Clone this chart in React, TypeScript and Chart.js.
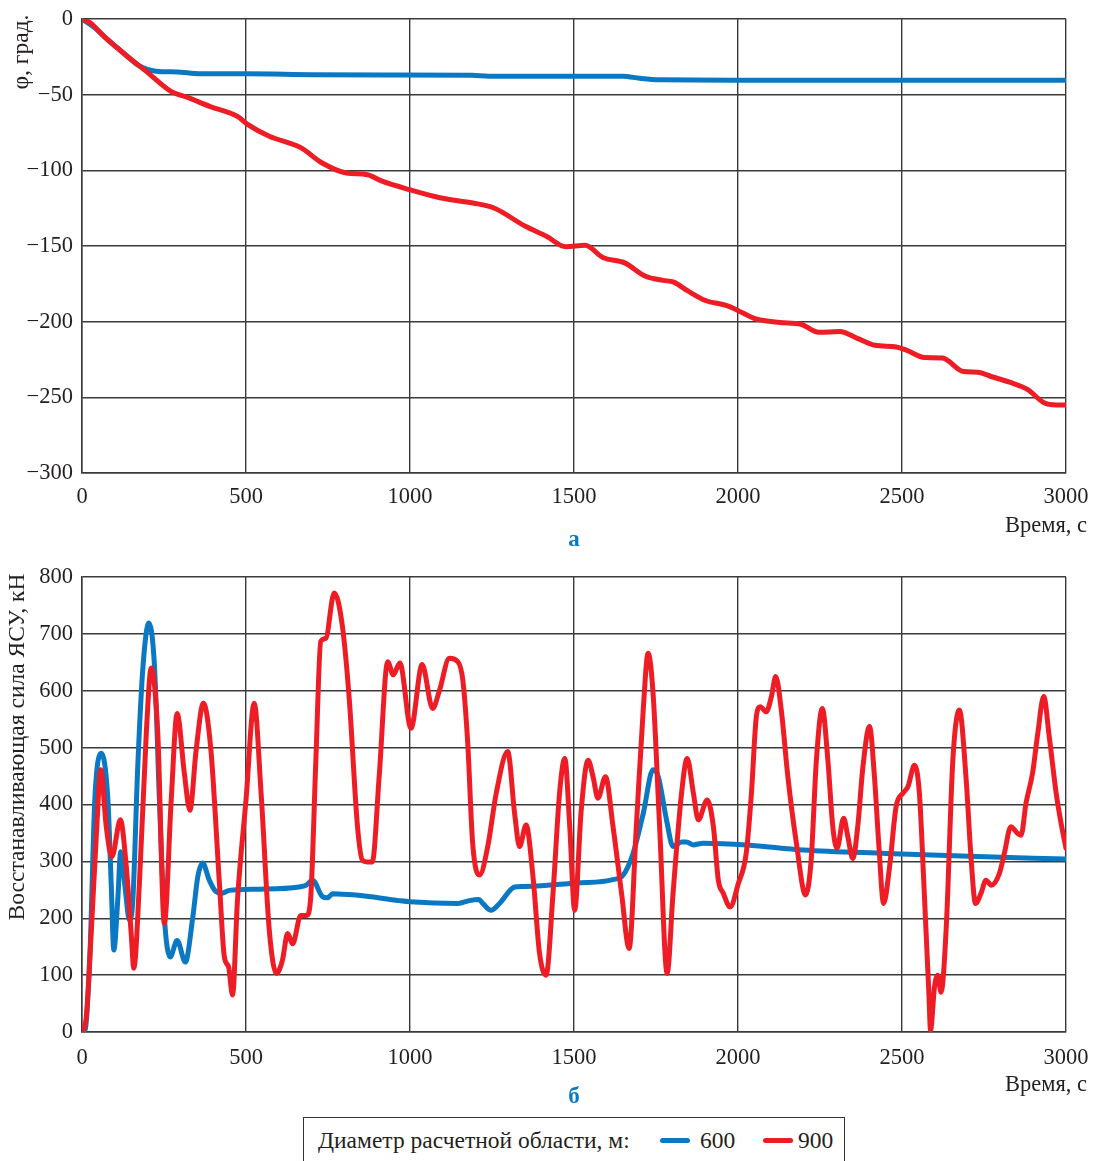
import React, { useEffect, useRef } from "react";
import { Chart, registerables } from "chart.js";

Chart.register(...registerables);

const FONT = "'Liberation Serif', 'Times New Roman', serif";
const BLUE = "#0a78c2";
const RED = "#ee1c25";
const GRID = "#3a3a3a";
const TEXT = "#231f20";
const CANVAS_W = 1110;

// Top panel (а): rotation angle φ, degrees vs time, s
const angle600: [number, number][] = [
  [0, 0], [40, -6], [80, -14], [130, -23], [175, -31], [226, -34.5], [290, -35], [358, -36.2],
  [500, -36.2], [700, -36.8], [920, -37], [1190, -37.2], [1240, -37.8], [1420, -37.8], [1650, -37.8],
  [1700, -39.2], [1760, -40.2], [2000, -40.4], [3000, -40.5],
];
const angle900: [number, number][] = [
  [0, 0], [25, -2.5], [67, -11.5], [132, -23.6], [196, -34.6], [271, -47.8], [324, -52], [389, -57.7],
  [474, -64.3], [506, -69.8], [571, -77.5], [667, -85], [731, -95], [806, -101.8], [870, -102.9],
  [913, -107], [999, -112.8], [1095, -118.3], [1192, -121.6], [1256, -124.9], [1352, -137], [1416, -143.6],
  [1475, -150.5], [1534, -149.5], [1588, -157.6], [1653, -161], [1718, -170], [1772, -172.7], [1804, -173.9],
  [1847, -179.7], [1901, -186], [1966, -189.4], [1998, -192.4], [2052, -198], [2127, -200.5], [2192, -201.7],
  [2246, -207], [2310, -206.5], [2364, -211], [2418, -215.6], [2483, -216.7], [2515, -219], [2569, -223.7],
  [2623, -224], [2688, -233], [2731, -233.4], [2774, -236.4], [2828, -240], [2881, -244.6], [2935, -253.8],
  [2970, -255], [3000, -255],
];

// Bottom panel (б): restoring force, kN vs time, s
const force600: [number, number][] = [
  [0, 0], [10, 5], [25, 150], [39, 408], [59, 490], [79, 408], [89, 261], [97, 144], [109, 232], [118, 317],
  [130, 261], [145, 197], [155, 232], [170, 467], [186, 643], [204, 719], [221, 643], [236, 408], [251, 203],
  [269, 132], [290, 161], [315, 123], [338, 203], [353, 273], [368, 297], [388, 267], [408, 247], [427, 244],
  [449, 249], [540, 251], [662, 255], [683, 258], [703, 267], [733, 238], [748, 236], [764, 243], [794, 242],
  [835, 241], [967, 231], [1000, 229], [1146, 226], [1181, 231], [1210, 233], [1222, 226], [1247, 214],
  [1273, 226], [1319, 255], [1344, 256], [1507, 262], [1619, 268], [1650, 276], [1680, 314], [1711, 384],
  [1741, 461], [1757, 449], [1782, 373], [1802, 326], [1828, 334], [1843, 334], [1863, 329], [1894, 332],
  [2027, 329], [2198, 320], [2452, 314], [2706, 309], [3000, 304],
];
const force900: [number, number][] = [
  [0, 0], [13, 26], [28, 173], [44, 349], [57, 461], [74, 361], [91, 308], [117, 373], [135, 291], [150, 173],
  [158, 112], [175, 261], [196, 525], [211, 640], [231, 525], [251, 191], [272, 408], [290, 560], [312, 455],
  [329, 390], [348, 496], [370, 578], [393, 496], [419, 261], [434, 132], [447, 114], [459, 65], [474, 232],
  [500, 408], [525, 578], [546, 420], [571, 179], [593, 103], [611, 126], [627, 173], [642, 155], [667, 205],
  [685, 205], [698, 243], [713, 478], [728, 687], [743, 692], [769, 772], [794, 713], [815, 584], [840, 361],
  [855, 302], [870, 299], [885, 299], [906, 449], [932, 651], [949, 628], [969, 649], [1003, 534], [1037, 646],
  [1069, 569], [1090, 601], [1120, 657], [1146, 651], [1161, 619], [1176, 508], [1191, 332], [1212, 276],
  [1237, 326], [1263, 420], [1298, 493], [1319, 384], [1334, 326], [1354, 364], [1375, 273], [1395, 138],
  [1415, 100], [1436, 244], [1456, 420], [1472, 481], [1487, 361], [1502, 214], [1522, 390], [1543, 478],
  [1558, 449], [1573, 411], [1596, 449], [1619, 361], [1645, 244], [1668, 147], [1690, 361], [1711, 566],
  [1726, 666], [1741, 596], [1761, 361], [1784, 103], [1802, 244], [1828, 420], [1845, 481], [1864, 420],
  [1879, 373], [1906, 408], [1925, 361], [1940, 267], [1955, 244], [1976, 220], [2001, 261], [2025, 314],
  [2041, 420], [2056, 555], [2068, 572], [2086, 563], [2102, 590], [2115, 625], [2132, 566], [2152, 449],
  [2178, 332], [2206, 241], [2223, 302], [2239, 478], [2257, 569], [2274, 478], [2289, 361], [2302, 323],
  [2322, 376], [2335, 343], [2350, 305], [2365, 361], [2381, 467], [2401, 537], [2416, 449], [2429, 332],
  [2444, 226], [2462, 290], [2482, 396], [2503, 420], [2518, 431], [2538, 469], [2553, 420], [2568, 244],
  [2582, 67], [2587, 3], [2599, 79], [2609, 100], [2619, 70], [2635, 185], [2655, 478], [2675, 566],
  [2695, 449], [2711, 302], [2724, 226], [2741, 244], [2756, 267], [2772, 258], [2797, 279], [2812, 314],
  [2832, 361], [2853, 349], [2863, 346], [2878, 402], [2898, 455], [2914, 525], [2932, 590], [2949, 519],
  [2970, 420], [2985, 367], [3000, 323],
];

const timeTicks = { min: 0, max: 3000, step: 500 };
const angleTicks = { min: -300, max: 0, step: 50 };
const forceTicks = { min: 0, max: 800, step: 100 };

const legendTitle = "Диаметр расчетной области, м:";
const seriesNames = ["600", "900"];

const fmt = (v: number) => (v < 0 ? "\u2212" + Math.abs(v) : String(v));

function textPlugin(cfg: {
  yTitle: string; yX: number; yY: number; xTitle: string; xRight: number; xY: number;
  letter: string; letterX: number; letterY: number;
}) {
  return {
    id: "texts",
    afterDraw(chart: any) {
      const ctx = chart.ctx as CanvasRenderingContext2D;
      ctx.save();
      ctx.fillStyle = TEXT;
      ctx.font = `23.5px ${FONT}`;
      ctx.textBaseline = "middle";
      ctx.save();
      ctx.translate(cfg.yX, cfg.yY);
      ctx.rotate(-Math.PI / 2);
      ctx.textAlign = "center";
      ctx.fillText(cfg.yTitle, 0, 0);
      ctx.restore();
      ctx.font = `22.5px ${FONT}`;
      ctx.textAlign = "right";
      ctx.fillText(cfg.xTitle, cfg.xRight, cfg.xY);
      ctx.font = `bold 23px ${FONT}`;
      ctx.fillStyle = BLUE;
      ctx.textAlign = "center";
      ctx.fillText(cfg.letter, cfg.letterX, cfg.letterY);
      ctx.restore();
    },
  };
}

function buildConfig(
  blue: [number, number][], red: [number, number][],
  yr: { min: number; max: number; step: number },
  padTop: number, xHeight: number, xPad: number, plugin: any
): any {
  const ds = (pts: [number, number][], color: string, label: string, order: number) => ({
    label,
    data: pts.map(([x, y]) => ({ x, y })),
    borderColor: color,
    backgroundColor: color,
    borderWidth: 5,
    pointRadius: 0,
    cubicInterpolationMode: "monotone",
    borderCapStyle: "round",
    borderJoinStyle: "round",
    order,
  });
  return {
    type: "line",
    data: { datasets: [ds(red, RED, seriesNames[1], 0), ds(blue, BLUE, seriesNames[0], 1)] },
    options: {
      animation: false,
      responsive: false,
      devicePixelRatio: 1,
      layout: { padding: { top: padTop, right: CANVAS_W - 1066, left: 0, bottom: 0 } },
      plugins: { legend: { display: false }, tooltip: { enabled: false } },
      scales: {
        x: {
          type: "linear",
          min: timeTicks.min,
          max: timeTicks.max,
          ticks: {
            stepSize: timeTicks.step, padding: xPad, color: TEXT,
            font: { family: FONT, size: 22.5 }, autoSkip: false, maxRotation: 0,
            callback: (v: any) => String(v),
          },
          grid: { color: GRID, lineWidth: 1.4, drawTicks: false },
          border: { color: GRID, width: 1.5 },
          afterFit: (s: any) => { s.height = xHeight; },
        },
        y: {
          type: "linear",
          min: yr.min,
          max: yr.max,
          ticks: {
            stepSize: yr.step, padding: 9, color: TEXT,
            font: { family: FONT, size: 22.5, lineHeight: 0.6 },
            callback: (v: any) => fmt(Number(v)),
          },
          grid: { color: GRID, lineWidth: 1.4, drawTicks: false },
          border: { color: GRID, width: 1.5 },
          afterFit: (s: any) => { s.width = 82; },
        },
      },
    },
    plugins: [plugin],
  };
}

export default function App() {
  const topRef = useRef<HTMLCanvasElement>(null);
  const botRef = useRef<HTMLCanvasElement>(null);

  useEffect(() => {
    const top = new Chart(
      topRef.current as HTMLCanvasElement,
      buildConfig(angle600, angle900, angleTicks, 19, 87, 11,
        textPlugin({ yTitle: "φ, град.", yX: 22, yY: 52, xTitle: "Время, с", xRight: 1087, xY: 526, letter: "а", letterX: 574, letterY: 540 }))
    );
    const bot = new Chart(
      botRef.current as HTMLCanvasElement,
      buildConfig(force600, force900, forceTicks, 17, 85, 13,
        textPlugin({ yTitle: "Восстанавливающая сила ЯСУ, кН", yX: 18, yY: 187, xTitle: "Время, с", xRight: 1087, xY: 525, letter: "б", letterX: 574, letterY: 537 }))
    );
    return () => { top.destroy(); bot.destroy(); };
  }, []);

  const swatch = (color: string, left: number) => (
    <div style={{ position: "absolute", left, top: 20, width: 30, height: 5, borderRadius: 3, background: color }} />
  );
  const label = (text: string, left: number) => (
    <span style={{ position: "absolute", left, top: 8, fontSize: 23.5, lineHeight: "28px", whiteSpace: "nowrap" }}>{text}</span>
  );

  return (
    <div style={{ position: "absolute", left: 0, top: 0, width: 1094, height: 1161, background: "#fff", overflow: "hidden" }}>
      <canvas ref={topRef} width={CANVAS_W} height={560} style={{ position: "absolute", left: 0, top: 0 }} />
      <canvas ref={botRef} width={CANVAS_W} height={557} style={{ position: "absolute", left: 0, top: 560 }} />
      <div style={{ position: "absolute", left: 303, top: 1117, width: 542, height: 60, boxSizing: "border-box", border: "1.5px solid #333", fontFamily: FONT, color: TEXT }}>
        {label(legendTitle, 14)}
        {swatch(BLUE, 356)}
        {label(seriesNames[0], 396)}
        {swatch(RED, 459)}
        {label(seriesNames[1], 494)}
      </div>
    </div>
  );
}
